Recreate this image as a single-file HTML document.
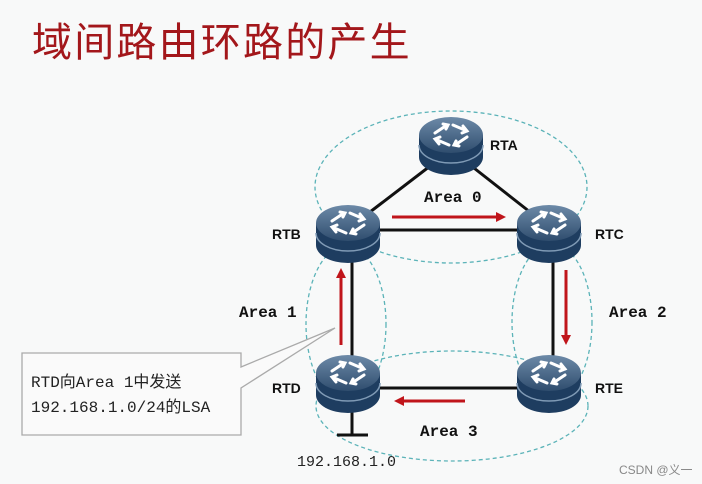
<!DOCTYPE html>
<html><head><meta charset="utf-8"><style>
html,body{margin:0;padding:0;background:#f8f9f9;}
svg{display:block}
</style></head><body>
<svg width="702" height="484" viewBox="0 0 702 484" xmlns="http://www.w3.org/2000/svg">
<defs>
<linearGradient id="tg" x1="0" y1="0" x2="0" y2="1"><stop offset="0" stop-color="#6d8aa8"/><stop offset="1" stop-color="#2f4d6e"/></linearGradient>
<g id="r">
  <path d="M-32,0 L-32,22 A32,18 0 0 0 32,22 L32,0 Z" fill="#1e3d60"/>
  <path d="M-32,10 A32,18 0 0 0 32,10" fill="none" stroke="#7f9ab5" stroke-width="1.5"/>
  <ellipse cx="0" cy="0" rx="32" ry="18" fill="url(#tg)"/>
  <g stroke="#fff" stroke-width="3" fill="none" stroke-linecap="round">
    <path d="M-16,-2 L-4,-10 M-8,-11 L-3,-10 L-5,-6"/>
    <path d="M16,2 L4,10 M8,11 L3,10 L5,6"/>
    <path d="M2,-10 L16,-4 M12,-9 L16,-4 L11,-2"/>
    <path d="M-2,10 L-16,4 M-12,9 L-16,4 L-11,2"/>
  </g>
</g>
</defs>
<text x="32" y="56" font-family="'Liberation Sans','Noto Sans CJK SC',sans-serif" font-size="40" letter-spacing="2.2" fill="#a3171b">域间路由环路的产生</text>

<g fill="none" stroke="#5bb3b8" stroke-width="1.3" stroke-dasharray="4,3">
  <ellipse cx="451" cy="187" rx="136" ry="76"/>
  <ellipse cx="346" cy="324" rx="40" ry="78"/>
  <ellipse cx="552" cy="322" rx="40" ry="78"/>
  <ellipse cx="452" cy="406" rx="136" ry="55"/>
</g>

<g stroke="#111" stroke-width="3">
  <line x1="451" y1="150" x2="370" y2="212"/>
  <line x1="451" y1="150" x2="530" y2="212"/>
  <line x1="370" y1="230" x2="530" y2="230"/>
  <line x1="352" y1="250" x2="352" y2="360"/>
  <line x1="553" y1="250" x2="553" y2="360"/>
  <line x1="370" y1="388" x2="530" y2="388"/>
  <line x1="352" y1="400" x2="352" y2="435"/>
  <line x1="337" y1="435" x2="368" y2="435"/>
</g>

<g stroke="#c0151b" stroke-width="3" fill="#c0151b">
  <line x1="392" y1="217" x2="498" y2="217"/><path d="M506,217 L496,212 L496,222 Z" stroke="none"/>
  <line x1="566" y1="270" x2="566" y2="337"/><path d="M566,345 L561,335 L571,335 Z" stroke="none"/>
  <line x1="341" y1="345" x2="341" y2="276"/><path d="M341,268 L336,278 L346,278 Z" stroke="none"/>
  <line x1="465" y1="401" x2="402" y2="401"/><path d="M394,401 L404,396 L404,406 Z" stroke="none"/>
</g>

<use href="#r" x="451" y="135"/>
<use href="#r" x="348" y="223"/>
<use href="#r" x="549" y="223"/>
<use href="#r" x="348" y="373"/>
<use href="#r" x="549" y="373"/>

<g font-family="'Liberation Mono','DejaVu Sans Mono',monospace" font-weight="bold" fill="#111">
  <text x="490" y="150" font-size="14" font-family="'Liberation Sans',sans-serif">RTA</text>
  <text x="272" y="239" font-size="14" font-family="'Liberation Sans',sans-serif">RTB</text>
  <text x="595" y="239" font-size="14" font-family="'Liberation Sans',sans-serif">RTC</text>
  <text x="272" y="393" font-size="14" font-family="'Liberation Sans',sans-serif">RTD</text>
  <text x="595" y="393" font-size="14" font-family="'Liberation Sans',sans-serif">RTE</text>
  <text x="424" y="202" font-size="16">Area 0</text>
  <text x="239" y="317" font-size="16">Area 1</text>
  <text x="609" y="317" font-size="16">Area 2</text>
  <text x="420" y="436" font-size="16">Area 3</text>
</g>
<text x="297" y="466" font-family="'Liberation Mono',monospace" font-size="15" fill="#222">192.168.1.0</text>

<path d="M22,353 L241,353 L241,367 L335,328 L241,388 L241,435 L22,435 Z" fill="#fafafa" stroke="#aaa" stroke-width="1.3"/>
<text x="31" y="387" font-family="'Liberation Mono','Noto Sans CJK SC',monospace" font-size="16" fill="#222">RTD向Area 1中发送</text>
<text x="31" y="412" font-family="'Liberation Mono','Noto Sans CJK SC',monospace" font-size="16" fill="#222">192.168.1.0/24的LSA</text>

<text x="619" y="474" font-family="'Liberation Sans','Noto Sans CJK SC',sans-serif" font-size="12" fill="#888">CSDN @义一</text>
</svg>
</body></html>
